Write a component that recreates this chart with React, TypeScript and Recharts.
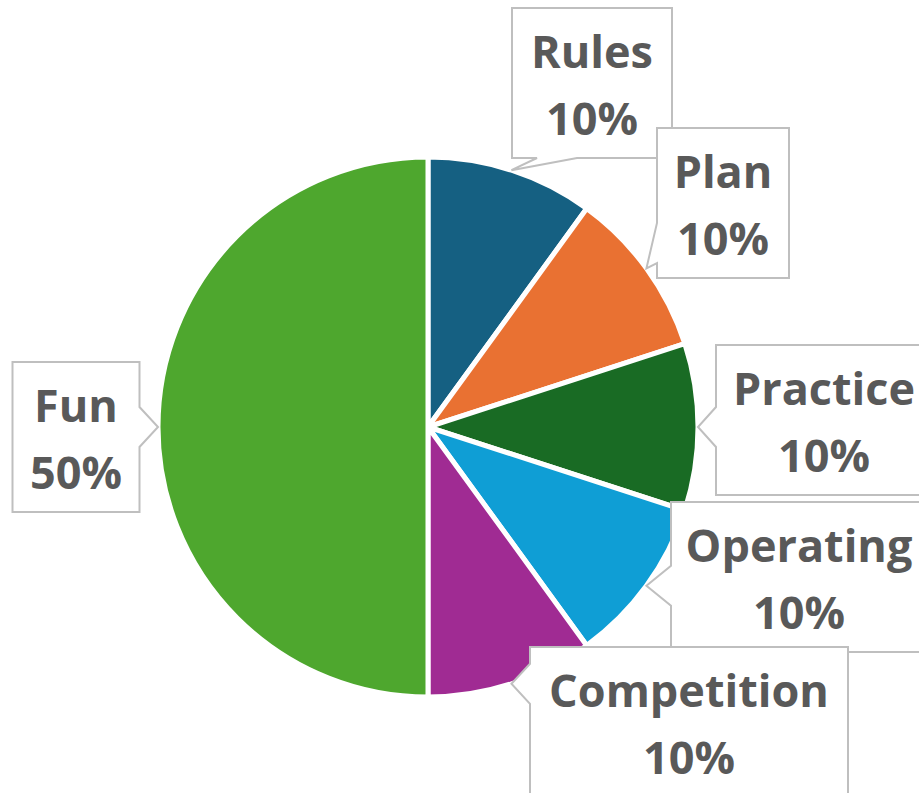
import { Cell, Pie, PieChart } from "recharts";

const categories = ["Rules", "Plan", "Practice", "Operating", "Competition", "Fun"];
const shares = [10, 10, 10, 10, 10, 50];
const colors = ["#156082", "#E97132", "#196B24", "#0F9ED5", "#A02B93", "#4EA72E"];

// callout box: centre offset from the pie centre and box width
const boxes = [
  { dx: 164, dy: -344, w: 160 },
  { dx: 295, dy: -224, w: 132 },
  { dx: 396, dy: -7, w: 216 },
  { dx: 371, dy: 150, w: 256 },
  { dx: 261, dy: 295, w: 318 },
  { dx: -352, dy: 10, w: 127 },
];

const data = categories.map((name, i) => ({ name, value: shares[i] }));

const RAD = Math.PI / 180;
const BOX_H = 150;
const FONT = "'Open Sans', sans-serif";
const clamp = (v: number, lo: number, hi: number) => Math.max(lo, Math.min(hi, v));

const calloutPath = (x0: number, y0: number, x1: number, y1: number, tx: number, ty: number) => {
  const d = { left: x0 - tx, right: tx - x1, top: y0 - ty, bottom: ty - y1 };
  const side = (Object.keys(d) as (keyof typeof d)[]).reduce((a, b) => (d[b] > d[a] ? b : a));
  const ph = clamp(tx, x0 + 45, x1 - 45);
  const pv = clamp(ty, y0 + 35, y1 - 35);
  const pts: [number, number][] = [[x0, y0]];
  if (side === "top") pts.push([ph - 20, y0], [tx, ty], [ph + 20, y0]);
  pts.push([x1, y0]);
  if (side === "right") pts.push([x1, pv - 20], [tx, ty], [x1, pv + 20]);
  pts.push([x1, y1]);
  if (side === "bottom") pts.push([ph + 20, y1], [tx, ty], [ph - 20, y1]);
  pts.push([x0, y1]);
  if (side === "left") pts.push([x0, pv + 20], [tx, ty], [x0, pv - 20]);
  return "M" + pts.map((p) => p.join(",")).join("L") + "Z";
};

const renderCallout = (props: any) => {
  const { cx, cy, midAngle, outerRadius, percent, index, name } = props;
  const b = boxes[index];
  const bx = cx + b.dx;
  const by = cy + b.dy;
  const tx = cx + Math.cos(-midAngle * RAD) * outerRadius;
  const ty = cy + Math.sin(-midAngle * RAD) * outerRadius;
  return (
    <g key={name}>
      <path
        d={calloutPath(bx - b.w / 2, by - BOX_H / 2, bx + b.w / 2, by + BOX_H / 2, tx, ty)}
        fill="#ffffff"
        stroke="#BFBFBF"
        strokeWidth={2}
      />
      <text x={bx} y={by - 15} textAnchor="middle" fill="#595959" fontSize={45} fontWeight="bold" fontFamily={FONT}>
        {name}
      </text>
      <text x={bx} y={by + 52} textAnchor="middle" fill="#595959" fontSize={45} fontWeight="bold" fontFamily={FONT}>
        {`${Math.round(percent * 100)}%`}
      </text>
    </g>
  );
};

export default function App() {
  return (
    <div style={{ position: "absolute", left: 0, top: 0, width: 919, height: 793, background: "#fff", overflow: "hidden" }}>
      <PieChart width={919} height={793} margin={{ top: 0, right: 0, bottom: 0, left: 0 }}>
        <Pie
          data={data}
          dataKey="value"
          nameKey="name"
          cx={428}
          cy={427}
          outerRadius={270}
          startAngle={90}
          endAngle={-270}
          stroke="#ffffff"
          strokeWidth={5}
          label={renderCallout}
          labelLine={false}
          isAnimationActive={false}
        >
          {data.map((d, i) => (
            <Cell key={d.name} fill={colors[i]} />
          ))}
        </Pie>
      </PieChart>
    </div>
  );
}
